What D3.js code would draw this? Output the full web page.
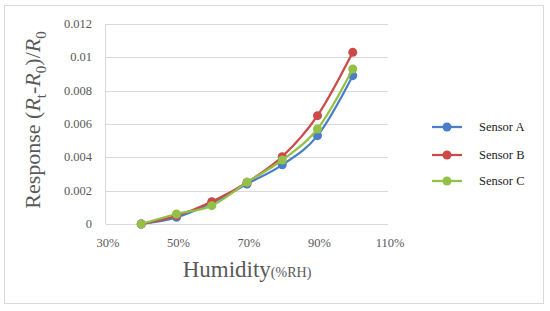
<!DOCTYPE html>
<html lang="en">
<head>
<meta charset="UTF-8">
<title>Sensor response vs humidity</title>
<script src="https://cdnjs.cloudflare.com/ajax/libs/d3/7.8.5/d3.min.js"></script>
<style>
  body { margin: 0; background: #fff; }
  svg text { font-family: "Liberation Serif", "DejaVu Serif", serif; }
</style>
</head>
<body>
<svg id="chart" width="550" height="311"></svg>
<script>
// humidity in %RH
var humidity = [40, 50, 60, 70, 80, 90, 100];
var sensorA = [0, 0.0004, 0.00126, 0.0024, 0.00355, 0.0053, 0.0089];
var sensorB = [0, 0.0005, 0.00134, 0.0025, 0.00404, 0.0065, 0.0103];
var sensorC = [0, 0.0006, 0.0011, 0.0025, 0.00384, 0.0057, 0.0093];
var seriesNames = ["Sensor A", "Sensor B", "Sensor C"];
var seriesColors = ["#4A7EC8", "#C94A47", "#93C047"];
var xTicks = [30, 50, 70, 90, 110];
var yTicks = [0, 0.002, 0.004, 0.006, 0.008, 0.01, 0.012];

var svg = d3.select("#chart");

// outer frame
svg.append("rect")
    .attr("x", 4.5).attr("y", 5.5)
    .attr("width", 539).attr("height", 298)
    .attr("fill", "#fff").attr("stroke", "#d9d9d9").attr("stroke-width", 1);

var x = d3.scaleLinear().domain([30, 110]).range([106, 388]);
var y = d3.scaleLinear().domain([0, 0.012]).range([224, 24]);

// horizontal gridlines
svg.append("g").selectAll("line")
    .data(yTicks).enter().append("line")
    .attr("x1", x(30)).attr("x2", x(110))
    .attr("y1", d => Math.round(y(d)) + 0.5).attr("y2", d => Math.round(y(d)) + 0.5)
    .attr("stroke", "#d9d9d9").attr("stroke-width", 1);

// vertical axis line
svg.append("line")
    .attr("x1", x(30) - 0.5).attr("x2", x(30) - 0.5)
    .attr("y1", y(0.012)).attr("y2", y(0))
    .attr("stroke", "#d9d9d9");

// y tick labels
svg.append("g").selectAll("text")
    .data(yTicks).enter().append("text")
    .attr("x", 92).attr("y", d => y(d) + 4)
    .attr("text-anchor", "end")
    .attr("font-size", 12.5).attr("fill", "#595959")
    .text(d => d3.format("~g")(d));

// x tick labels
svg.append("g").selectAll("text")
    .data(xTicks).enter().append("text")
    .attr("x", d => x(d) + 2).attr("y", 247)
    .attr("text-anchor", "middle")
    .attr("font-size", 12.5).attr("fill", "#595959")
    .text(d => d + "%");

// x title
var xt = svg.append("text")
    .attr("x", 247).attr("y", 277)
    .attr("text-anchor", "middle")
    .attr("fill", "#595959");
xt.append("tspan").attr("font-size", 23).text("Humidity");
xt.append("tspan").attr("font-size", 14).text("(%RH)");

// y title
var yt = svg.append("text")
    .attr("transform", "translate(40,120) rotate(-90)")
    .attr("text-anchor", "middle")
    .attr("font-size", 22).attr("fill", "#595959");
yt.append("tspan").text("Response (");
yt.append("tspan").attr("font-style", "italic").text("R");
yt.append("tspan").attr("font-size", 15).attr("dy", 6).text("t");
yt.append("tspan").attr("dy", -6).text("-");
yt.append("tspan").attr("font-style", "italic").text("R");
yt.append("tspan").attr("font-size", 15).attr("dy", 6).text("0");
yt.append("tspan").attr("dy", -6).text(")/");
yt.append("tspan").attr("font-style", "italic").text("R");
yt.append("tspan").attr("font-size", 15).attr("dy", 6).text("0");

// series
var allSeries = [sensorA, sensorB, sensorC];
var line = d3.line()
    .x((d, i) => x(humidity[i]))
    .y(d => y(d))
    .curve(d3.curveMonotoneX);

allSeries.forEach(function(vals, s) {
    var g = svg.append("g");
    g.append("path")
        .attr("d", line(vals))
        .attr("fill", "none")
        .attr("stroke", seriesColors[s])
        .attr("stroke-width", 2.25);
    g.selectAll("circle")
        .data(vals).enter().append("circle")
        .attr("cx", (d, i) => x(humidity[i]))
        .attr("cy", d => y(d))
        .attr("r", 4.5)
        .attr("fill", seriesColors[s]);
});

// legend
var legend = svg.append("g").selectAll("g")
    .data(seriesNames).enter().append("g")
    .attr("transform", (d, i) => "translate(432," + [127, 155, 181][i] + ")");
legend.append("line")
    .attr("x1", 0).attr("x2", 30)
    .attr("stroke", (d, i) => seriesColors[i]).attr("stroke-width", 2.25);
legend.append("circle")
    .attr("cx", 15).attr("r", 4.5)
    .attr("fill", (d, i) => seriesColors[i]);
legend.append("text")
    .attr("x", 47).attr("y", 4)
    .attr("font-size", 12.5).attr("fill", "#222")
    .text(d => d);
</script>
</body>
</html>
